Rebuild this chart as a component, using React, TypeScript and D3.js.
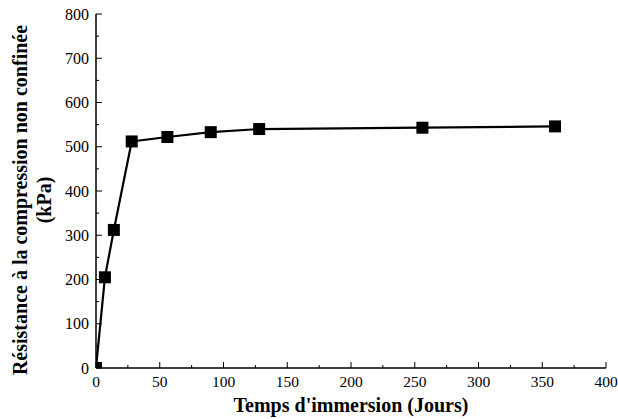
import React from "react";
import * as d3 from "d3";

const days = [0, 7, 14, 28, 56, 90, 128, 256, 360];
const strength = [0, 205, 312, 512, 522, 533, 540, 543, 546];
const xTicks = [0, 50, 100, 150, 200, 250, 300, 350, 400];
const yTicks = [0, 100, 200, 300, 400, 500, 600, 700, 800];
const xMinor = d3.range(25, 400, 50);
const yMinor = d3.range(50, 800, 100);

export default function App() {
  const W = 618, H = 419;
  const left = 96, right = 606, top = 14, bottom = 368;
  const x = d3.scaleLinear().domain([0, 400]).range([left, right]);
  const y = d3.scaleLinear().domain([0, 800]).range([bottom, top]);
  const line = d3.line<number>().x((_, i) => x(days[i])).y((d) => y(d));
  const font = "'Liberation Serif', 'Times New Roman', serif";
  const ms = 12;
  return (
    <svg width={W} height={H} style={{ position: "absolute", left: 0, top: 0 }}>
      <rect width={W} height={H} fill="white" />
      <defs>
        <clipPath id="plot">
          <rect x={left} y={top - 10} width={right - left + 10} height={bottom - top + 10} />
        </clipPath>
      </defs>
      <g clipPath="url(#plot)">
        <path d={line(strength) || ""} fill="none" stroke="black" strokeWidth={2.2} />
        {strength.map((v, i) => (
          <rect key={i} x={x(days[i]) - ms / 2} y={y(v) - ms / 2} width={ms} height={ms} fill="black" />
        ))}
      </g>
      <line x1={left} x2={right} y1={bottom} y2={bottom} stroke="black" strokeWidth={1.5} />
      <line x1={left} x2={left} y1={bottom} y2={top} stroke="black" strokeWidth={1.5} />
      {xTicks.map((t) => (
        <g key={t}>
          <line x1={x(t)} x2={x(t)} y1={bottom} y2={bottom - 6} stroke="black" strokeWidth={1} />
          <text x={x(t)} y={387} textAnchor="middle" fontFamily={font} fontSize={15.5}>{t}</text>
        </g>
      ))}
      {xMinor.map((t) => (
        <line key={t} x1={x(t)} x2={x(t)} y1={bottom} y2={bottom - 3} stroke="black" strokeWidth={1} />
      ))}
      {yTicks.map((t) => (
        <g key={t}>
          <line x1={left} x2={left + 6} y1={y(t)} y2={y(t)} stroke="black" strokeWidth={1} />
          <text x={89} y={y(t) + 5.5} textAnchor="end" fontFamily={font} fontSize={16}>{t}</text>
        </g>
      ))}
      {yMinor.map((t) => (
        <line key={t} x1={left} x2={left + 3} y1={y(t)} y2={y(t)} stroke="black" strokeWidth={1} />
      ))}
      <text x={351} y={412} textAnchor="middle" fontFamily={font} fontSize={20} fontWeight="bold">
        Temps d'immersion (Jours)
      </text>
      <g transform={`translate(27, 200) rotate(-90)`}>
        <text x={0} y={0} textAnchor="middle" fontFamily={font} fontSize={20} fontWeight="bold">
          Résistance à la compression non confinée
        </text>
        <text x={0} y={24} textAnchor="middle" fontFamily={font} fontSize={20} fontWeight="bold">
          (kPa)
        </text>
      </g>
    </svg>
  );
}
